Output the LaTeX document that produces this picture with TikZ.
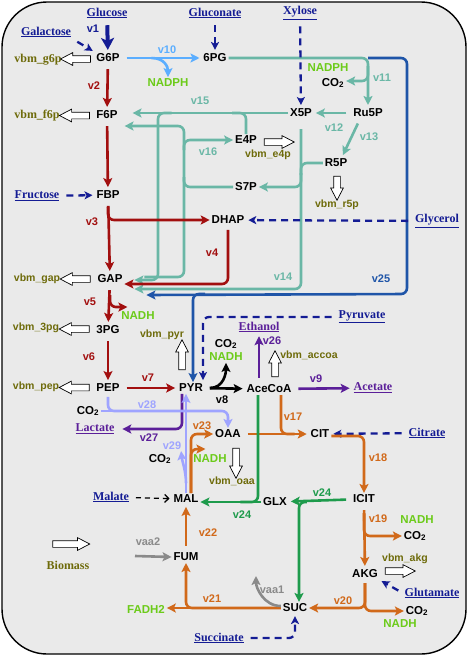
\documentclass[tikz,border=0pt]{standalone}
\usepackage{fontspec}
\setmainfont{Liberation Serif}
\setsansfont{Liberation Sans}
\usetikzlibrary{arrows.meta,shapes.arrows,calc}
\definecolor{navy}{HTML}{141C94}
\definecolor{purp}{HTML}{5B1F99}
\definecolor{rxRed}{HTML}{A20F0F}
\definecolor{ltBlue}{HTML}{5BAEFF}
\definecolor{tl}{HTML}{6AB7A6}
\definecolor{edBlue}{HTML}{1F55A8}
\definecolor{lav}{HTML}{9FA4FF}
\definecolor{orng}{HTML}{D1691A}
\definecolor{grn}{HTML}{1E9B4C}
\definecolor{cofGreen}{HTML}{6CCB1A}
\definecolor{olive}{HTML}{6E6B0A}
\definecolor{gry}{HTML}{8A8A8A}
\definecolor{bgGrey}{HTML}{EAEAEA}

\begin{document}
\begin{tikzpicture}[x=1pt, y=-1pt,
  met/.style={font=\sffamily\bfseries\fontsize{11.5}{12}\selectfont, inner sep=1pt, outer sep=1pt},
  cof/.style={met, text=cofGreen},
  inpt/.style={font=\bfseries\fontsize{12}{13}\selectfont, text=navy, inner sep=1pt, outer sep=1pt},
  outp/.style={inpt, text=purp},
  bmtxt/.style={font=\sffamily\bfseries\fontsize{10.5}{11}\selectfont, text=olive, inner sep=1pt},
  bmrm/.style={font=\bfseries\fontsize{12}{13}\selectfont, text=olive, inner sep=1pt},
  rx/.style={font=\sffamily\bfseries\fontsize{11}{12}\selectfont, inner sep=1pt},
  flux/.style={-{Stealth[length=9pt,width=9pt,inset=2pt]}, line width=2.6pt, rounded corners=6pt},
  branch/.style={line width=2.6pt, rounded corners=6pt},
  spaced/.style={shorten <=5pt, shorten >=2pt},
  feed/.style={-{Stealth[length=8pt,width=8pt,inset=2pt]}, line width=2.3pt, draw=navy,
               dash pattern=on 7pt off 5pt, rounded corners=6pt, spaced},
  malfeed/.style={-{Straight Barb[length=4pt,width=8pt]}, line width=1.3pt,
                  dash pattern=on 5pt off 4pt, spaced},
  bm/.style={single arrow, draw=black, fill=white, line width=0.7pt, minimum height=30pt,
             inner sep=3pt, single arrow head extend=3pt, single arrow tip angle=55},
]
\useasboundingbox (0,0) rectangle (468,656);
\draw[line width=1.4pt, fill=bgGrey, rounded corners=45pt] (2,2) rectangle (466,654);

% ---------------- METABOLITES ----------------
\node[met] (G6P) at (108,58) {G6P};
\node[met] (PG6) at (215,58) {6PG};
\node[met] (F6P) at (107,115) {F6P};
\node[met] (X5P) at (301,113) {X5P};
\node[met] (RU5P) at (368,113) {Ru5P};
\node[met] (E4P) at (246,140) {E4P};
\node[met] (R5P) at (336,163) {R5P};
\node[met] (S7P) at (246,187) {S7P};
\node[met] (FBP) at (108,195) {FBP};
\node[met] (DHAP) at (228,220) {DHAP};
\node[met] (GAP) at (110,279) {GAP};
\node[met] (PG3) at (108,330) {3PG};
\node[met] (PEP) at (108,388) {PEP};
\node[met] (PYR) at (191,388) {PYR};
\node[met] (ACCOA) at (269,389) {AceCoA};
\node[met] (OAA) at (228,434) {OAA};
\node[met] (CIT) at (320,434) {CIT};
\node[met] (ICIT) at (364,499) {ICIT};
\node[met] (GLX) at (275,502) {GLX};
\node[met] (MAL) at (186,499) {MAL};
\node[met] (FUM) at (186,557) {FUM};
\node[met] (SUC) at (295,608) {SUC};
\node[met] (AKG) at (365,574) {AKG};

% ---------------- SUBSTRATES / PRODUCTS ----------------
\node[inpt] (GLC) at (107,13) {\underline{Glucose}};
\node[inpt] (GLCN) at (215,13) {\underline{Gluconate}};
\node[inpt] (XYL) at (300,13) {\underline{Xylose}};
\node[inpt] (GAL) at (46,32) {\underline{Galactose}};
\node[inpt] (FRU) at (37,196) {\underline{Fructose}};
\node[inpt] (GLYC) at (437,221) {\underline{Glycerol}};
\node[inpt] (PYRin) at (362,317) {\underline{Pyruvate}};
\node[inpt] (CITin) at (427,433) {\underline{Citrate}};
\node[inpt] (GLU) at (432,593) {\underline{Glutamate}};
\node[inpt] (SUCin) at (219,638) {\underline{Succinate}};
\node[inpt] (MALin) at (111,497) {\underline{Malate}};
\node[outp] (LAC) at (95,429) {\underline{Lactate}};
\node[outp] (ETOH) at (259,327) {\underline{Ethanol}};
\node[outp] (AC) at (373,388) {\underline{Acetate}};

% ---------------- COFACTORS ----------------
\node[cof] (NADPHv10) at (168,83) {NADPH};
\node[cof] (NADPHv11) at (328,68) {NADPH};
\node[met] (CO2v11) at (333,83) {CO\textsubscript{2}};
\node[cof] (NADHv5) at (138,316) {NADH};
\node[met] (CO2v8) at (226,344) {CO\textsubscript{2}};
\node[cof] (NADHv8) at (226,357) {NADH};
\node[met] (CO2v28) at (88,411) {CO\textsubscript{2}};
\node[met] (CO2v29) at (160,459) {CO\textsubscript{2}};
\node[cof] (NADHv23) at (210,459) {NADH};
\node[cof] (NADHv19) at (417,520) {NADH};
\node[met] (CO2v19) at (415,536) {CO\textsubscript{2}};
\node[met] (CO2v20) at (417,611) {CO\textsubscript{2}};
\node[cof] (NADHv20) at (400,624) {NADH};
\node[cof] (FADH2) at (146,609) {FADH2};

% ---------------- BIOMASS DRAINS ----------------
\node[bmrm] (bmlG6P) at (38,60) {vbm\_g6p};
\node[bmrm] (bmlF6P) at (37,116) {vbm\_f6p};
\node[bmtxt] (bmlE4P) at (268,155) {vbm\_e4p};
\node[bmtxt] (bmlR5P) at (337,205) {vbm\_r5p};
\node[bmtxt] (bmlGAP) at (37,279) {vbm\_gap};
\node[bmtxt] (bml3PG) at (36,328) {vbm\_3pg};
\node[bmtxt] (bmlPEP) at (36,387) {vbm\_pep};
\node[bmtxt] (bmlPYR) at (162,335) {vbm\_pyr};
\node[bmtxt] (bmlACCOA) at (309,355) {vbm\_accoa};
\node[bmtxt] (bmlOAA) at (232,481) {vbm\_oaa};
\node[bmtxt] (bmlAKG) at (405,559) {vbm\_akg};
\node[bmrm] (BIOM) at (68,565) {Biomass};

\path (G6P.west) -- node[bm, shape border rotate=180] (bmG6P) {} (bmlG6P.east);
\path (F6P.west) -- node[bm, shape border rotate=180] (bmF6P) {} (bmlF6P.east);
\path (GAP.west) -- node[bm, shape border rotate=180] (bmGAP) {} (bmlGAP.east);
\path (PG3.west) -- node[bm, shape border rotate=180] (bm3PG) {} (bml3PG.east);
\path (PEP.west) -- node[bm, shape border rotate=180] (bmPEP) {} (bmlPEP.east);
\node[bm] (bmE4P) at (276,142) {};
\node[bm, shape border rotate=270, minimum height=24pt] (bmR5P) at (337,185) {};
\node[bm, shape border rotate=90] (bmPYR) at (182,358) {};
\node[bm, shape border rotate=90, minimum height=26pt] (bmACCOA) at (275,367) {};
\node[bm, shape border rotate=270] (bmOAA) at (236,460) {};
\node[bm] (bmAKG) at (397,571) {};
\node[bm, minimum height=37pt] (bmBIO) at (68,544) {};

% ---------------- JUNCTIONS ----------------
\coordinate (v15c) at (158,280);
\coordinate (v16c) at (184,277);
\coordinate (v25c) at (407,294);
\coordinate (v28c) at (228,411);
\coordinate (vaa2in) at (135,556);
\coordinate (vaa1out) at (256,576);

% ---------------- PENTOSE PHOSPHATE / ED ----------------
\draw[flux, draw=ltBlue, spaced] (G6P) -- (PG6);
\draw[flux, draw=ltBlue] ([xshift=30pt]G6P.east) .. controls +(13,0) and +(0,-10) .. (NADPHv10.north);
\draw[flux, draw=edBlue] (RU5P.north |- PG6.east) -| (v25c) -- ([shift={(22pt,-16pt)}]GAP.east);
\draw[flux, draw=edBlue] ([xshift=14pt]PYR.north |- v25c) -| ([xshift=2pt]PYR.north);
\draw[flux, draw=tl, shorten >=2pt] (PG6.east) -| (RU5P.north);
\draw[flux, draw=tl] ([yshift=-8pt]RU5P.north |- PG6.east) |- ([yshift=2pt]CO2v11.east);
\draw[flux, draw=tl, spaced] (RU5P) -- (X5P);
\draw[flux, draw=tl, spaced] ([xshift=-8pt]RU5P.south) -- ([xshift=6pt]R5P.north);
% v14: X5P + R5P -> S7P + GAP
\draw[flux, draw=tl, shorten <=10pt] (X5P.south) |- ([shift={(10pt,-10pt)}]GAP.east);
\draw[branch, draw=tl] (R5P.west) -| ([yshift=-12pt]X5P.south |- R5P.west);
\draw[flux, draw=tl] ([yshift=-10pt]X5P.south |- R5P.west) |- (S7P.east);
% v15: X5P + E4P -> F6P + GAP
\draw[flux, draw=tl] (X5P.west) -- ([xshift=13pt]F6P.east |- X5P.west);
\draw[branch, draw=tl] (E4P.north) |- ([xshift=-14pt]E4P.north |- X5P.west);
\draw[flux, draw=tl] ([xshift=52pt]F6P.east |- X5P.west) -| (v15c) -- ([xshift=10pt]GAP.east |- v15c);
% v16: S7P + GAP -> E4P + F6P
\draw[flux, draw=tl] ([shift={(20pt,2pt)}]GAP.east) -- (v16c) |- ([shift={(5pt,-11pt)}]F6P.east);
\draw[flux, draw=tl] ([yshift=-10pt]v16c |- E4P.west) |- (E4P.west);
\draw[branch, draw=tl] (S7P.west) -| ([yshift=10pt]v16c |- S7P.west);

% ---------------- GLYCOLYSIS ----------------
\draw[flux, draw=rxRed, spaced] (G6P) -- (F6P);
\draw[flux, draw=rxRed, spaced] (F6P) -- (FBP);
\draw[flux, draw=rxRed, spaced] (FBP) -- (GAP);
\draw[flux, draw=rxRed] ([yshift=-6pt]FBP.south) |- (DHAP);
\draw[flux, draw=rxRed, shorten <=4pt] (DHAP.south) |- ([yshift=-5pt]GAP.east);
\draw[flux, draw=rxRed, spaced] (GAP) -- (PG3);
\draw[flux, draw=rxRed] ([yshift=-10pt]GAP.south) |- ([shift={(8pt,3pt)}]NADHv5.north west);
\draw[flux, draw=rxRed, spaced] (PG3) -- (PEP);
\draw[flux, draw=rxRed, spaced] (PEP) -- (PYR);

% ---------------- UPTAKE ----------------
\draw[flux, draw=navy, line width=4pt, -{Stealth[length=12pt,width=13pt,inset=3pt]}, spaced] (GLC) -- (G6P);
\draw[feed] (GAL.south east) -- (G6P.north west);
\draw[feed] (GLCN) -- (PG6);
\draw[feed] (XYL) -- (X5P);
\draw[feed] (FRU) -- (FBP);
\draw[feed] (GLYC) -- (DHAP);
\draw[feed] (PYRin.west) -| ([xshift=12pt]PYR.north);
\draw[feed] (CITin) -- (CIT);
\draw[feed] (GLU.west) -- (AKG.south east);
\draw[feed] (SUCin.east) -| (SUC.south);
\draw[malfeed] (MALin) -- (MAL);

% ---------------- PYRUVATE NODE ----------------
\draw[flux, draw=black, spaced] (PYR) -- (ACCOA);
\draw[flux, draw=black] ([xshift=5pt]PYR.east) .. controls +(14,0) and +(0,10) .. (NADHv8.south);
\draw[flux, draw=purp, spaced] (ACCOA) -- (AC);
\draw[flux, draw=purp, spaced] ([xshift=-10pt]ACCOA.north) -- (ETOH.south);
\draw[flux, draw=purp] ([xshift=-9pt]PYR.south) |- ([xshift=6pt]LAC.east);
\draw[flux, draw=lav, shorten <=3pt] (PEP.south) |- (v28c) -- (OAA.north);
\draw[branch, draw=lav] (CO2v28.east) -- ([xshift=10pt]PEP.south |- v28c);
\draw[flux, draw=lav] (MAL.north) -- (MAL.north |- PYR.south);
\draw[flux, draw=lav] ([yshift=10pt]MAL.north) .. controls +(0,-12) and +(1,10) .. ([shift={(8pt,1pt)}]CO2v29.north east);
\draw[flux, draw=orng] ([xshift=5pt]MAL.north) |- (OAA.west);
\draw[flux, draw=orng] ([xshift=5pt]MAL.north) |- ([shift={(14pt,4pt)}]NADHv23.north west);

% ---------------- TCA / GLYOXYLATE ----------------
\draw[flux, draw=orng, spaced] (OAA) -- (CIT);
\draw[branch, draw=orng] ([xshift=12pt]ACCOA.south) |- ([xshift=-14pt]CIT.west);
\draw[flux, draw=orng] ([yshift=-2pt]CIT.east) -| (ICIT.north);
\draw[flux, draw=orng, spaced] (ICIT) -- (AKG);
\draw[flux, draw=orng] ([yshift=-8pt]ICIT.south) |- (CO2v19.west);
\draw[flux, draw=orng, shorten <=3pt] (AKG.south) |- (SUC.east);
\draw[flux, draw=orng, shorten <=3pt] (AKG.south) |- (CO2v20.west);
\draw[flux, draw=orng] (SUC.west) -| (FUM.south);
\draw[flux, draw=orng] (SUC.west) -- (SUC.west -| FADH2.east);
\draw[flux, draw=orng, spaced] (FUM) -- (MAL);
\draw[flux, draw=grn, spaced] (ICIT) -- (GLX);
\draw[flux, draw=grn] ([xshift=18pt]GLX.east) -| ([xshift=4pt]SUC.north);
\draw[flux, draw=grn] (GLX.west) -- (GLX.west -| MAL.east);
\draw[branch, draw=grn] ([xshift=-11pt]ACCOA.south) |- ([xshift=40pt]MAL.east |- GLX.west);
\draw[flux, draw=gry] (vaa2in) -- (FUM.west);
\draw[flux, draw=gry] ([yshift=2pt]SUC.west) .. controls +(-17,0) and +(0,12) .. (vaa1out);

% ---------------- REACTION LABELS ----------------
\node[rx, text=navy] (lv1) at (93,29) {v1};
\node[rx, text=rxRed] (lv2) at (94,86) {v2};
\node[rx, text=rxRed] (lv3) at (92,222) {v3};
\node[rx, text=rxRed] (lv4) at (212,253) {v4};
\node[rx, text=rxRed] (lv5) at (90,302) {v5};
\node[rx, text=rxRed] (lv6) at (89,357) {v6};
\node[rx, text=rxRed] (lv7) at (148,378) {v7};
\node[rx] (lv8) at (222,400) {v8};
\node[rx, text=purp] (lv9) at (316,379) {v9};
\node[rx, text=ltBlue] (lv10) at (167,50) {v10};
\node[rx, text=tl] (lv11) at (382,78) {v11};
\node[rx, text=tl] (lv12) at (334,128) {v12};
\node[rx, text=tl] (lv13) at (369,137) {v13};
\node[rx, text=tl] (lv14) at (283,277) {v14};
\node[rx, text=tl] (lv15) at (200,101) {v15};
\node[rx, text=tl] (lv16) at (208,152) {v16};
\node[rx, text=orng] (lv17) at (293,417) {v17};
\node[rx, text=orng] (lv18) at (378,458) {v18};
\node[rx, text=orng] (lv19) at (378,519) {v19};
\node[rx, text=orng] (lv20) at (343,601) {v20};
\node[rx, text=orng] (lv21) at (212,599) {v21};
\node[rx, text=orng] (lv22) at (208,533) {v22};
\node[rx, text=orng] (lv23) at (202,426) {v23};
\node[rx, text=grn] (lv24a) at (322,493) {v24};
\node[rx, text=grn] (lv24b) at (242,515) {v24};
\node[rx, text=edBlue] (lv25) at (381,279) {v25};
\node[rx, text=purp] (lv26) at (272,341) {v26};
\node[rx, text=purp] (lv27) at (149,438) {v27};
\node[rx, text=lav] (lv28) at (147,405) {v28};
\node[rx, text=lav] (lv29) at (172,446) {v29};
\node[rx, text=gry] (lvaa1) at (272,590) {vaa1};
\node[rx, text=gry] (lvaa2) at (148,542) {vaa2};
\end{tikzpicture}
\end{document}
